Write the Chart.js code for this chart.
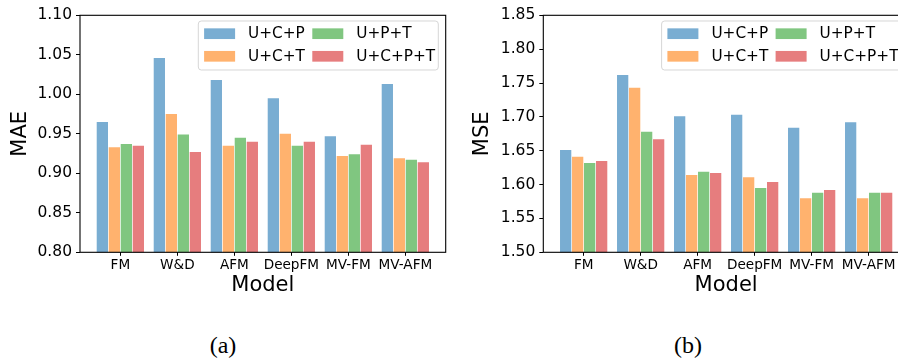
<!DOCTYPE html>
<html>
<head>
<meta charset="utf-8">
<script src="https://cdn.jsdelivr.net/npm/chart.js@4/dist/chart.umd.min.js"></script>
<style>
  html, body { margin: 0; padding: 0; width: 898px; height: 363px; overflow: hidden; background: #fff; }
  canvas { position: absolute; top: 0; }
  .cap { position: absolute; top: 333px; font-family: "Liberation Serif", serif; font-size: 24px; line-height: 24px; color: #000; transform: translateX(-50%); white-space: nowrap; }
</style>
</head>
<body>
<canvas id="mae" width="470" height="300" style="left:0px"></canvas>
<canvas id="mse" width="470" height="300" style="left:450px"></canvas>
<div class="cap" style="left:223px">(a)</div>
<div class="cap" style="left:688px">(b)</div>
<script>
// Models on the x axis and the four feature combinations compared for each
const models = ['FM', 'W&D', 'AFM', 'DeepFM', 'MV-FM', 'MV-AFM'];
const featureSets = ['U+C+P', 'U+C+T', 'U+P+T', 'U+C+P+T'];

// MAE per model, one array per feature combination
const maeUCP  = [0.965, 1.046, 1.018, 0.995, 0.947, 1.013];
const maeUCT  = [0.933, 0.975, 0.935, 0.950, 0.922, 0.919];
const maeUPT  = [0.937, 0.949, 0.945, 0.935, 0.924, 0.917];
const maeUCPT = [0.935, 0.927, 0.940, 0.940, 0.936, 0.914];

// MSE per model, one array per feature combination
const mseUCP  = [1.651, 1.762, 1.701, 1.703, 1.684, 1.692];
const mseUCT  = [1.641, 1.743, 1.614, 1.611, 1.580, 1.580];
const mseUPT  = [1.632, 1.678, 1.619, 1.595, 1.588, 1.588];
const mseUCPT = [1.635, 1.667, 1.617, 1.604, 1.592, 1.588];

// y-axis tick values
const maeTicks = [0.80, 0.85, 0.90, 0.95, 1.00, 1.05, 1.10];
const mseTicks = [1.50, 1.55, 1.60, 1.65, 1.70, 1.75, 1.80, 1.85];

const colors = ['#79add2', '#ffb26e', '#80c680', '#e67d7e'];
const FAMILY = '"DejaVu Sans", sans-serif';

Chart.defaults.font.family = FAMILY;
Chart.defaults.color = '#000';

// full box frame around the plot area
const frame = {
  id: 'frame',
  afterDatasetsDraw(chart) {
    const a = chart.chartArea, ctx = chart.ctx;
    ctx.save();
    ctx.strokeStyle = '#000';
    ctx.lineWidth = 1.1;
    ctx.strokeRect(a.left, a.top, a.right - a.left, a.bottom - a.top);
    ctx.restore();
  }
};

// two-column framed legend in the upper right corner
const boxLegend = {
  id: 'boxLegend',
  afterDraw(chart) {
    const a = chart.chartArea, ctx = chart.ctx;
    const w = 240, h = 49, r = 3;
    const right = a.right - 7.4, top = a.top + 5.7, left = right - w;
    ctx.save();
    ctx.beginPath();
    ctx.moveTo(left + r, top);
    ctx.lineTo(right - r, top);
    ctx.arcTo(right, top, right, top + r, r);
    ctx.lineTo(right, top + h - r);
    ctx.arcTo(right, top + h, right - r, top + h, r);
    ctx.lineTo(left + r, top + h);
    ctx.arcTo(left, top + h, left, top + h - r, r);
    ctx.lineTo(left, top + r);
    ctx.arcTo(left, top, left + r, top, r);
    ctx.closePath();
    ctx.fillStyle = 'rgba(255,255,255,0.8)';
    ctx.fill();
    ctx.strokeStyle = 'rgba(204,204,204,0.8)';
    ctx.lineWidth = 1;
    ctx.stroke();

    const colX = [5.8, 114];
    const rowY = [12.7, 35.3];
    ctx.font = '15.3px ' + FAMILY;
    ctx.textBaseline = 'middle';
    ctx.textAlign = 'left';
    chart.data.datasets.forEach((ds, k) => {
      const col = Math.floor(k / 2), row = k % 2;
      const px = left + colX[col], cy = top + rowY[row];
      ctx.fillStyle = ds.backgroundColor;
      ctx.fillRect(px, cy - 5.35, 31, 10.7);
      ctx.fillStyle = '#000';
      ctx.fillText(ds.label, px + 44, cy + 0.5);
    });
    ctx.restore();
  }
};

function drawPanel(id, series, ticks, yTitle, plotLeft, plotRight, titleX) {
  const W = 470, H = 300, top = 15.3, bottom = 252.3;
  new Chart(document.getElementById(id), {
    type: 'bar',
    data: {
      datasets: featureSets.map((name, k) => ({
        label: name,
        data: models.map((m, i) => ({ x: i, y: series[k][i] })),
        backgroundColor: colors[k],
        categoryPercentage: 0.842,
        barPercentage: 0.94
      }))
    },
    options: {
      responsive: false,
      animation: false,
      events: [],
      layout: { padding: { left: 0, top: top, right: W - plotRight, bottom: 0 } },
      plugins: { legend: { display: false }, tooltip: { enabled: false } },
      scales: {
        x: {
          type: 'linear',
          offset: false,
          min: -0.708,
          max: models.length - 1 + 0.708,
          afterBuildTicks: s => { s.ticks = models.map((_, i) => ({ value: i })); },
          afterFit: s => { s.height = H - bottom; },
          ticks: {
            callback: v => models[Math.round(v)],
            font: { size: 13.6 },
            color: '#000',
            padding: 1.5,
            maxRotation: 0,
            autoSkip: false
          },
          grid: { offset: false, drawOnChartArea: false, tickLength: 3.5, tickWidth: 1, tickColor: '#000' },
          border: { display: false },
          title: { display: true, text: 'Model', font: { size: 21 }, color: '#000', padding: { top: 0, bottom: 1.5 } }
        },
        y: {
          type: 'linear',
          min: ticks[0],
          max: ticks[ticks.length - 1],
          afterBuildTicks: s => { s.ticks = ticks.map(v => ({ value: v })); },
          afterFit: s => { s.width = plotLeft; },
          ticks: { callback: v => v.toFixed(2), font: { size: 15.5 }, color: '#000', padding: 4 },
          grid: { drawOnChartArea: false, tickLength: 4, tickWidth: 1, tickColor: '#000' },
          border: { display: false },
          title: { display: true, text: yTitle, font: { size: 21 }, color: '#000', padding: { top: titleX - 12.6, bottom: 0 } }
        }
      }
    },
    plugins: [frame, boxLegend]
  });
}

drawPanel('mae', [maeUCP, maeUCT, maeUPT, maeUCPT], maeTicks, 'MAE', 80, 445.7, 20.5);
drawPanel('mse', [mseUCP, mseUCT, mseUPT, mseUCPT], mseTicks, 'MSE', 93.3, 459, 32.8);
</script>
</body>
</html>
